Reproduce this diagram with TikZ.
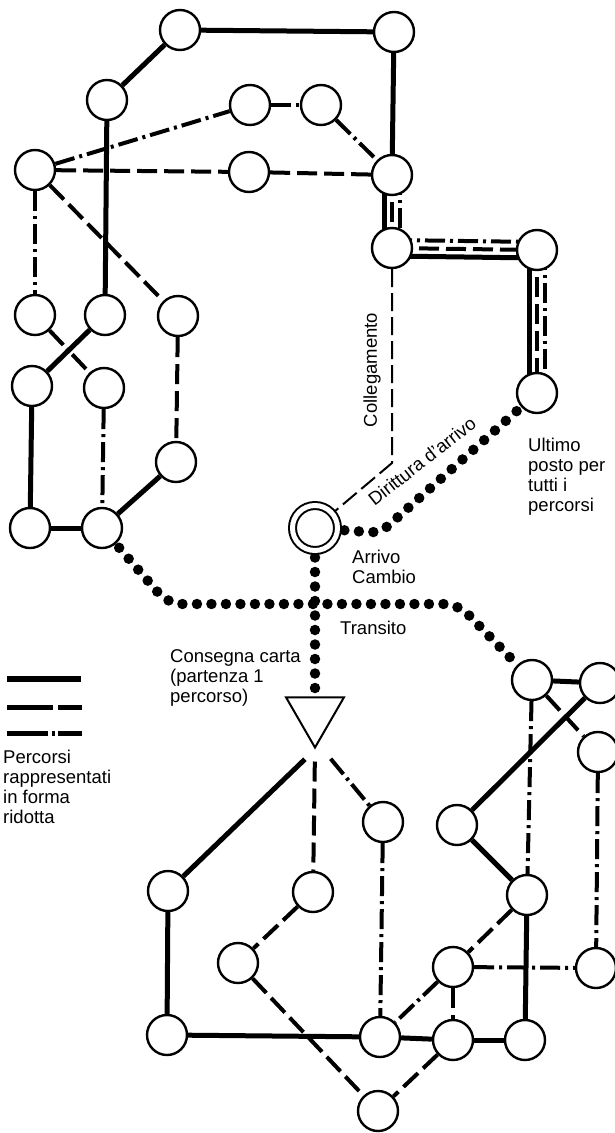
\documentclass[tikz,border=0pt]{standalone}
\usepackage{fontspec}
\setmainfont{Liberation Sans}
\usetikzlibrary{shapes.geometric,backgrounds}

\begin{document}
\begin{tikzpicture}[x=1pt,y=-1pt,
		posto/.style={circle,draw,line width=2.4pt,fill=white,minimum size=40pt,inner sep=0pt},
		solida/.style={line width=5pt},
		tratteggio/.style={line width=4pt,dash pattern=on 20pt off 7pt},
		puntolinea/.style={line width=4pt,dash pattern=on 20pt off 5pt on 3pt off 5pt},
		pallini/.style={line width=10.5pt,line cap=round,dash pattern=on 0pt off 14.5pt},
		scritta/.style={font=\fontsize{18.5}{20}\selectfont,align=left,inner sep=0pt}]
	\useasboundingbox (0,0) rectangle (615,1133);

	\node[posto] (T1) at (180,30) {};
	\node[posto] (T2) at (394,32) {};
	\node[posto] (A) at (107,100) {};
	\node[posto] (B) at (250,105) {};
	\node[posto] (C) at (321,105) {};
	\node[posto] (D) at (35,170) {};
	\node[posto] (E) at (249,172) {};
	\node[posto] (F) at (392,175) {};
	\node[posto] (G) at (392,248) {};
	\node[posto] (H) at (537,250) {};
	\node[posto] (I) at (537,393) {};
	\node[posto] (L1) at (35,315) {};
	\node[posto] (L2) at (105,315) {};
	\node[posto] (L3) at (178,316) {};
	\node[posto] (M1) at (32,386) {};
	\node[posto] (M2) at (104,388) {};
	\node[posto] (N3) at (176,462) {};
	\node[posto] (P1) at (30,528) {};
	\node[posto] (P2) at (102,528) {};
	\node[posto,line width=2pt,double,double distance=5pt,minimum size=45pt] (arr) at (315,528) {};
	\node[regular polygon,regular polygon sides=3,shape border rotate=180,draw,line width=2pt,fill=white,minimum size=67pt,inner sep=0pt] (tri) at (315,714) {};

	\node[posto] (R1) at (168,891) {};
	\node[posto] (R2) at (313,892) {};
	\node[posto] (R3) at (383,822) {};
	\node[posto] (S1) at (167,1035) {};
	\node[posto] (S2) at (238,963) {};
	\node[posto] (V) at (380,1037) {};
	\node[posto] (U) at (378,1111) {};
	\node[posto] (Q1) at (532,680) {};
	\node[posto] (Q2) at (600,683) {};
	\node[posto] (Q3) at (598,752) {};
	\node[posto] (W) at (457,825) {};
	\node[posto] (X) at (527,895) {};
	\node[posto] (Y) at (596,968) {};
	\node[posto] (Z) at (453,967) {};
	\node[posto] (BB) at (453,1040) {};
	\node[posto] (AA) at (525,1040) {};

	\coordinate (gomito1) at (168,604);
	\coordinate (gomito2) at (458,604);
	\coordinate (gomito3) at (380,533);
	\coordinate (gomito4) at (392,463);

	\node[scritta,rotate=90] (collegamento) at (372,370) {Collegamento};
	\node[scritta,rotate=38] (dirittura) at (422,461) {Dirittura d'arrivo};
	\node[scritta,anchor=west] (ultimo) at (528,477) {Ultimo\\posto per\\tutti i\\percorsi};
	\node[scritta,anchor=west] (arrivo) at (352,567) {Arrivo\\Cambio};
	\node[scritta,anchor=west] (transito) at (340,628) {Transito};
	\node[scritta,anchor=west] (consegna) at (170,678) {Consegna carta\\(partenza 1\\percorso)};
	\node[scritta,anchor=west] (legenda) at (3,787) {Percorsi\\rappresentati\\in forma\\ridotta};

	\coordinate (leg1a) at (7,679);
	\coordinate (leg1b) at (81,679);
	\coordinate (leg2a) at (7,707);
	\coordinate (leg2b) at (82,707);
	\coordinate (leg3a) at (7,733);
	\coordinate (leg3b) at (82,733);
	\draw[line width=6.5pt] (leg1a) -- (leg1b);
	\draw[line width=5pt,dash pattern=on 46pt off 5pt] (leg2a) -- (leg2b);
	\draw[line width=5pt,dash pattern=on 41pt off 4pt on 3pt off 3pt] (leg3a) -- (leg3b);

	\begin{pgfonlayer}{background}
		\draw[solida] (T1) -- (T2);
		\draw[solida] (T1) -- (A);
		\draw[solida] (T2) -- (F);
		\draw[solida] (A) -- (L2);
		\draw[solida] (L2) -- (M1);
		\draw[solida] (M1) -- (P1);
		\draw[solida] (P1) -- (P2);
		\draw[solida] (N3) -- (P2);
		\draw[tratteggio] (D) -- (E);
		\draw[tratteggio] (E) -- (F);
		\draw[tratteggio] (D) -- (L3);
		\draw[tratteggio] (L3) -- (N3);
		\draw[puntolinea] (D) -- (B);
		\draw[puntolinea] (B) -- (C);
		\draw[puntolinea] (C) -- (F);
		\draw[puntolinea] (D) -- (L1);
		\draw[puntolinea] (L1) -- (M2);
		\draw[puntolinea] (M2) -- (P2);

		\draw[solida] ([xshift=-8pt]F.center) -- ([xshift=-8pt]G.center);
		\draw[tratteggio] (F.center) -- (G.center);
		\draw[puntolinea] ([xshift=8pt]F.center) -- ([xshift=8pt]G.center);
		\draw[puntolinea] ([yshift=8pt]G.center) -- ([yshift=8pt]H.center);
		\draw[tratteggio] (G.center) -- (H.center);
		\draw[solida] ([yshift=-8pt]G.center) -- ([yshift=-8pt]H.center);
		\draw[solida] ([xshift=-8pt]H.center) -- ([xshift=-8pt]I.center);
		\draw[tratteggio] (H.center) -- (I.center);
		\draw[puntolinea] ([xshift=8pt]H.center) -- ([xshift=8pt]I.center);

		\draw[tratteggio,line width=2pt,dash pattern=on 18pt off 6pt] (G) -- (gomito4) -- (arr);
		\draw[pallini,rounded corners=14pt,shorten <=5pt,shorten >=5pt] (P2) -- (gomito1) -- (gomito2) -- (Q1);
		\draw[pallini,rounded corners=10pt,shorten <=6pt,shorten >=5pt] (arr) -- (gomito3) -- (I);
		\draw[pallini,shorten <=6pt,shorten >=6pt] (arr) -- (tri);

		\draw[solida,shorten <=14pt] (tri.south) -- (R1);
		\draw[tratteggio,shorten <=12pt] (tri.south) -- (R2);
		\draw[puntolinea,shorten <=12pt] ([xshift=8pt]tri.south) -- (R3);
		\draw[solida] (R1) -- (S1);
		\draw[tratteggio] (R2) -- (S2);
		\draw[tratteggio] (S2) -- (U);
		\draw[solida] (S1) -- (V);
		\draw[puntolinea] (R3) -- (V);
		\draw[solida] (V) -- (BB);
		\draw[solida] (BB) -- (AA);
		\draw[tratteggio] (BB) -- (U);
		\draw[puntolinea] (Z) -- (V);
		\draw[tratteggio] (Z) -- (BB);
		\draw[puntolinea] (Z) -- (Y);
		\draw[tratteggio] (X) -- (Z);
		\draw[solida] (X) -- (AA);
		\draw[solida] (W) -- (X);
		\draw[solida] (Q2) -- (W);
		\draw[solida] (Q1) -- (Q2);
		\draw[tratteggio] (Q1) -- (Q3);
		\draw[puntolinea] (Q1) -- (X);
		\draw[puntolinea] (Q3) -- (Y);
	\end{pgfonlayer}
\end{tikzpicture}
\end{document}
